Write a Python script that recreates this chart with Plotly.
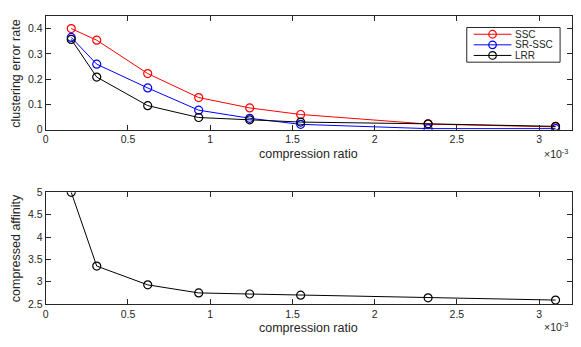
import plotly.graph_objects as go

# compression ratio (x 1e-3)
ratio = [0.155, 0.31, 0.62, 0.93, 1.24, 1.55, 2.325, 3.1]

# clustering error rate
ssc = [0.400, 0.354, 0.222, 0.127, 0.086, 0.060, 0.022, 0.011]
sr_ssc = [0.365, 0.259, 0.165, 0.077, 0.045, 0.021, 0.004, 0.004]
lrr = [0.357, 0.208, 0.095, 0.048, 0.039, 0.030, 0.023, 0.013]

# compressed affinity
affinity = [5.0, 3.35, 2.93, 2.75, 2.725, 2.70, 2.64, 2.59]

names = ['SSC', 'SR-SSC', 'LRR']
colors = ['#ff0000', '#0000ff', '#000000']

xticks = [0, 0.5, 1, 1.5, 2, 2.5, 3]
xticktext = ['0', '0.5', '1', '1.5', '2', '2.5', '3']
yticks_top = [0, 0.1, 0.2, 0.3, 0.4]
yticktext_top = ['0', '0.1', '0.2', '0.3', '0.4']
yticks_bot = [2.5, 3, 3.5, 4, 4.5, 5]
yticktext_bot = ['2.5', '3', '3.5', '4', '4.5', '5']

# page has an 8px body margin, so the figure is 16px smaller and shifted
OFF = 8
W, H = 581 - 2 * OFF, 347 - 2 * OFF
axcol = '#262626'
font = 'Liberation Sans, Arial, sans-serif'


def px_x(p):
    return (p - OFF) / W


def px_y(p):
    return 1 - (p - OFF) / H


fig = go.Figure()


def add_line(x, y, name, color, xa, ya):
    fig.add_trace(go.Scatter(
        x=x, y=y, name=name, mode='lines+markers',
        line=dict(color=color, width=1),
        marker=dict(symbol='circle-open', size=8, color=color, line=dict(width=1.2, color=color)),
        xaxis=xa, yaxis=ya, showlegend=False))


for series, name, color in zip([ssc, sr_ssc, lrr], names, colors):
    add_line(ratio, series, name, color, 'x', 'y')
add_line(ratio, affinity, 'affinity', '#000000', 'x2', 'y2')

axis_common = dict(
    showline=True, linecolor=axcol, linewidth=1, mirror='ticks',
    ticks='inside', ticklen=5, tickcolor=axcol, tickwidth=1,
    showgrid=False, zeroline=False,
    tickfont=dict(family=font, size=10.5, color=axcol),
)

xdom = [px_x(43), px_x(573)]

fig.update_layout(
    width=W, height=H,
    margin=dict(l=0, r=0, t=0, b=0),
    paper_bgcolor='white', plot_bgcolor='white',
    font=dict(family=font, color=axcol),
    showlegend=False,
    xaxis=dict(domain=xdom, range=[0, 3.2], tickvals=xticks, ticktext=xticktext,
               anchor='y', **axis_common),
    yaxis=dict(domain=[px_y(128), px_y(10)], range=[0, 0.45], tickvals=yticks_top,
               ticktext=yticktext_top, anchor='x', **axis_common),
    xaxis2=dict(domain=xdom, range=[0, 3.2], tickvals=xticks, ticktext=xticktext,
                anchor='y2', **axis_common),
    yaxis2=dict(domain=[px_y(309), px_y(193)], range=[2.5, 5], tickvals=yticks_bot,
                ticktext=yticktext_bot, anchor='x2', **axis_common),
)

ann = []
shapes = []
for ytitle in (153, 334):
    ann.append(dict(text='compression ratio', x=px_x(308), y=px_y(ytitle), xref='paper', yref='paper',
                    xanchor='center', yanchor='middle', showarrow=False,
                    font=dict(family=font, size=12.5, color=axcol)))
for yexp in (153, 332):
    ann.append(dict(text='×10<sup>-3</sup>', x=px_x(571), y=px_y(yexp), xref='paper', yref='paper',
                    xanchor='right', yanchor='middle', showarrow=False,
                    font=dict(family=font, size=10.5, color=axcol)))
ann.append(dict(text='clustering error rate', x=px_x(13), y=px_y(70), xref='paper', yref='paper',
                xanchor='center', yanchor='middle', textangle=-90, showarrow=False,
                font=dict(family=font, size=12.5, color=axcol)))
ann.append(dict(text='compressed affinity', x=px_x(13), y=px_y(251), xref='paper', yref='paper',
                xanchor='center', yanchor='middle', textangle=-90, showarrow=False,
                font=dict(family=font, size=12.5, color=axcol)))

# legend box drawn by hand (MATLAB style, compact rows)
shapes.append(dict(type='rect', xref='paper', yref='paper', x0=px_x(467), x1=px_x(561),
                   y0=px_y(58), y1=px_y(22), line=dict(color=axcol, width=1), fillcolor='white',
                   layer='above'))
for i, (name, color) in enumerate(zip(names, colors)):
    yy = px_y(29 + 11 * i)
    shapes.append(dict(type='line', xref='paper', yref='paper', x0=px_x(474), x1=px_x(512),
                       y0=yy, y1=yy, line=dict(color=color, width=1), layer='above'))
    shapes.append(dict(type='circle', xref='paper', yref='paper', xsizemode='pixel', ysizemode='pixel',
                       xanchor=px_x(493), yanchor=yy, x0=-3.8, x1=3.8, y0=-3.8, y1=3.8,
                       line=dict(color=color, width=1.2), layer='above'))
    ann.append(dict(text=name, x=px_x(514), y=yy, xref='paper', yref='paper',
                    xanchor='left', yanchor='middle', showarrow=False,
                    font=dict(family=font, size=10, color=axcol)))

fig.update_layout(annotations=ann, shapes=shapes)

fig.write_html('out.html')
